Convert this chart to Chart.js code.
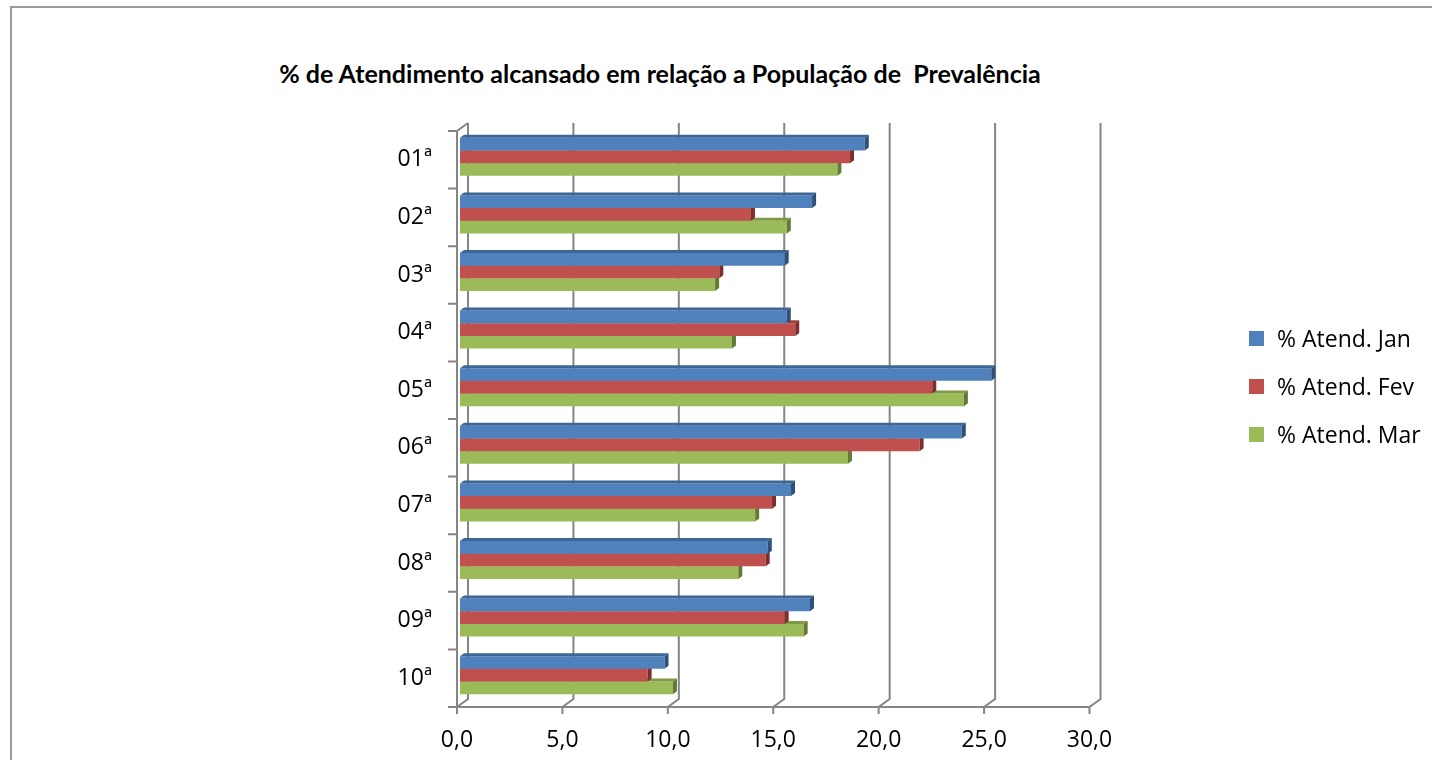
<!DOCTYPE html>
<html>
<head>
<meta charset="utf-8">
<script src="https://cdn.jsdelivr.net/npm/chart.js@4.4.1/dist/chart.umd.min.js"></script>
<style>
  html, body { margin: 0; padding: 0; background: #fff; }
  #wrap { position: relative; width: 1432px; height: 760px; overflow: hidden; }
  #frame { position: absolute; left: 10px; top: 6px; width: 1500px; height: 900px; border: 2px solid #9a9a9a; }
  #title { position: absolute; left: 160px; top: 61px; width: 1000px; text-align: center; white-space: pre;
           font: bold 25px Lato, sans-serif; line-height: 25px; color: #000; }
  #chart { position: absolute; left: 0; top: 0; }
  #legend { position: absolute; left: 1249px; top: 314px; font: 23px "Open Sans", sans-serif; color: #000; }
  #legend .row { display: flex; align-items: center; height: 48px; white-space: nowrap; }
  #legend .box { width: 15px; height: 15px; margin-right: 13px; }
</style>
</head>
<body>
<div id="wrap">
  <div id="frame"></div>
  <div id="title">% de Atendimento alcansado em relação a População de  Prevalência</div>
  <canvas id="chart" width="1432" height="760"></canvas>
  <div id="legend"></div>
</div>
<script>
// data
const categories = ['01ª', '02ª', '03ª', '04ª', '05ª', '06ª', '07ª', '08ª', '09ª', '10ª'];
const seriesNames = ['% Atend. Jan', '% Atend. Fev', '% Atend. Mar'];
const atendJan = [19.2, 16.7, 15.4, 15.5, 25.2, 23.8, 15.7, 14.6, 16.6, 9.7];
const atendFev = [18.5, 13.8, 12.3, 15.9, 22.4, 21.8, 14.8, 14.5, 15.4, 8.9];
const atendMar = [17.9, 15.5, 12.1, 12.9, 23.9, 18.4, 14.0, 13.2, 16.3, 10.1];
const xTicks = [0, 5, 10, 15, 20, 25, 30];

const fronts = ['#4F81BD', '#C0504D', '#9BBB59'];
const tops = ['#3D6696', '#9E3E3B', '#7E9A47'];
const sides = ['#2F5079', '#7E2F2D', '#627A36'];

const GRID = '#858585';
const FRONT = { dx: -3, dy: 3 };   // front edge of the 3D box
const BACK = { dx: 8, dy: -5 };    // back wall
const DEPTH = { dx: 4, dy: -3 };   // bar thickness

const frame3d = {
  id: 'frame3d',
  beforeDatasetsDraw(chart) {
    const { ctx, chartArea: a, scales: { x, y } } = chart;
    ctx.save();
    ctx.strokeStyle = GRID;
    ctx.lineWidth = 2;
    ctx.beginPath();
    xTicks.forEach(v => {
      const px = x.getPixelForValue(v);
      // back wall line
      ctx.moveTo(px + BACK.dx, a.top + BACK.dy);
      ctx.lineTo(px + BACK.dx, a.bottom + BACK.dy);
      // floor diagonal
      ctx.lineTo(px + FRONT.dx, a.bottom + FRONT.dy);
      // tick below
      ctx.lineTo(px + FRONT.dx, a.bottom + FRONT.dy + 7);
    });
    // front floor edge
    ctx.moveTo(a.left + FRONT.dx, a.bottom + FRONT.dy);
    ctx.lineTo(x.getPixelForValue(30) + FRONT.dx, a.bottom + FRONT.dy);
    // left wall
    ctx.moveTo(a.left + BACK.dx, a.top + BACK.dy);
    ctx.lineTo(a.left + FRONT.dx, a.top + FRONT.dy);
    ctx.lineTo(a.left + FRONT.dx, a.bottom + FRONT.dy);
    for (let i = 0; i <= categories.length; i++) {
      const py = y.getPixelForValue(i - 0.5) + FRONT.dy;
      ctx.moveTo(a.left + FRONT.dx - 9, py);
      ctx.lineTo(a.left + FRONT.dx, py);
    }
    ctx.stroke();
    ctx.restore();
  },
  afterDatasetDraw(chart, args) {
    const { ctx } = chart;
    const i = args.index;
    ctx.save();
    args.meta.data.forEach(bar => {
      const { x: end, y: cy, base, height } = bar.getProps(['x', 'y', 'base', 'height'], true);
      const top = cy - height / 2;
      const bottom = cy + height / 2;
      ctx.fillStyle = tops[i];
      ctx.beginPath();
      ctx.moveTo(base, top);
      ctx.lineTo(base + DEPTH.dx, top + DEPTH.dy);
      ctx.lineTo(end + DEPTH.dx, top + DEPTH.dy);
      ctx.lineTo(end, top);
      ctx.closePath();
      ctx.fill();
      ctx.fillStyle = sides[i];
      ctx.beginPath();
      ctx.moveTo(end, top);
      ctx.lineTo(end + DEPTH.dx, top + DEPTH.dy);
      ctx.lineTo(end + DEPTH.dx, bottom + DEPTH.dy);
      ctx.lineTo(end, bottom);
      ctx.closePath();
      ctx.fill();
    });
    ctx.restore();
  }
};

const chart = new Chart(document.getElementById('chart'), {
  type: 'bar',
  data: {
    labels: categories,
    datasets: [atendJan, atendFev, atendMar].map((d, i) => ({
      label: seriesNames[i],
      data: d,
      backgroundColor: fronts[i],
      borderWidth: 0,
      categoryPercentage: 0.66,
      barPercentage: 1
    }))
  },
  options: {
    indexAxis: 'y',
    responsive: false,
    animation: false,
    devicePixelRatio: 1,
    layout: { padding: { left: 0, top: 128, right: 339.5, bottom: 0 } },
    plugins: {
      legend: { display: false },
      title: { display: false },
      tooltip: { enabled: false }
    },
    scales: {
      x: {
        min: 0,
        max: 30,
        afterFit: s => { s.height = 56; },
        afterBuildTicks: s => { s.ticks = xTicks.map(v => ({ value: v })); },
        grid: { display: false, drawTicks: false },
        border: { display: false },
        ticks: {
          padding: 23,
          labelOffset: FRONT.dx,
          color: '#000',
          font: { family: 'Open Sans', size: 23 },
          callback: v => v.toFixed(1).replace('.', ',')
        }
      },
      y: {
        afterFit: s => { s.width = 460; },
        grid: { display: false, drawTicks: false },
        border: { display: false },
        ticks: {
          padding: 28,
          labelOffset: FRONT.dy,
          color: '#000',
          font: { family: 'Open Sans', size: 23 }
        }
      }
    }
  },
  plugins: [frame3d]
});

// legend built from the chart's datasets
const legendEl = document.getElementById('legend');
chart.data.datasets.forEach(ds => {
  const row = document.createElement('div');
  row.className = 'row';
  const box = document.createElement('span');
  box.className = 'box';
  box.style.background = ds.backgroundColor;
  const txt = document.createElement('span');
  txt.textContent = ds.label;
  row.appendChild(box);
  row.appendChild(txt);
  legendEl.appendChild(row);
});
</script>
</body>
</html>
